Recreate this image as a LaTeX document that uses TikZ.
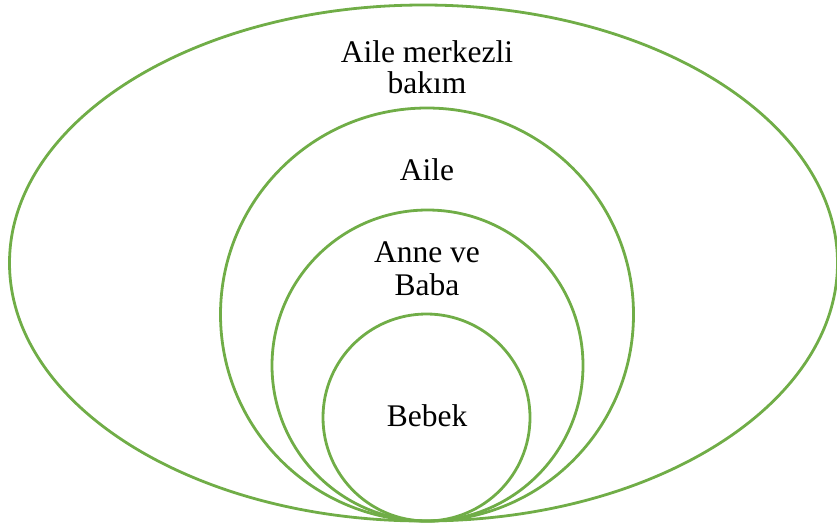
\documentclass[tikz,border=0pt]{standalone}
\usepackage{fontspec}
\setmainfont{Liberation Serif}
\definecolor{ringgreen}{HTML}{70AD47}
\begin{document}
\begin{tikzpicture}[x=1pt,y=-1pt,
  ring/.style={draw=ringgreen,line width=2.8pt},
  lbl/.style={font=\fontsize{31.5}{33}\selectfont,align=center,inner sep=0pt,anchor=base}]
\useasboundingbox (0,0) rectangle (837,525);
\draw[ring] (423.5,263) ellipse [x radius=414, y radius=258];
\draw[ring] (427,314.5) circle [radius=206.5];
\draw[ring] (427.5,365.5) circle [radius=155.5];
\draw[ring] (426.5,417.5) circle [radius=103.5];
\node[lbl] (outer) at (427,62) {Aile merkezli};
\node[lbl] (outer2) at (427,93) {bakım};
\node[lbl] (aile) at (427,180) {Aile};
\node[lbl] (anne) at (427,262) {Anne ve};
\node[lbl] (baba) at (427,295) {Baba};
\node[lbl] (bebek) at (427,426) {Bebek};
\end{tikzpicture}
\end{document}
